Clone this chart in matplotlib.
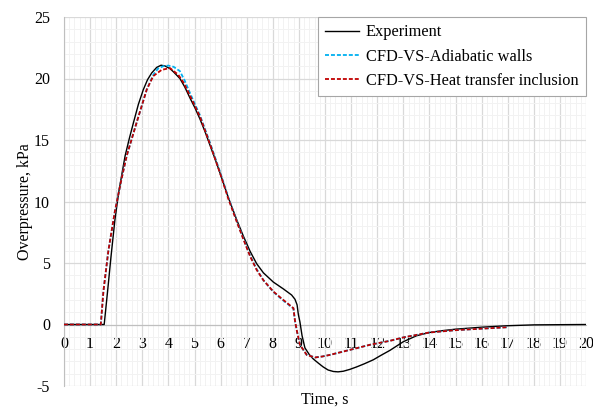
import matplotlib
matplotlib.use("Agg")
import matplotlib.pyplot as plt
from matplotlib.ticker import MultipleLocator

plt.rcParams['font.family'] = ['Liberation Serif', 'DejaVu Serif']
plt.rcParams['axes.unicode_minus'] = False

# Measured overpressure histories (time in s, overpressure in kPa)
exp_t = [0, 1.54, 1.67, 1.8, 1.95, 2.1, 2.34, 2.5, 2.66, 2.85, 3.04, 3.2, 3.36,
         3.55, 3.72, 3.87, 4.06, 4.19, 4.44, 4.63, 4.83, 5.02, 5.21, 5.4, 5.59,
         5.79, 5.98, 6.3, 6.62, 6.87, 7.13, 7.38, 7.64, 8.02, 8.4, 8.72, 8.85,
         8.93, 8.98, 9.04, 9.12, 9.23, 9.4, 9.55, 9.75, 9.93, 10.12, 10.32, 10.5,
         10.7, 10.95, 11.21, 11.5, 11.85, 12.15, 12.49, 13.0, 13.5, 14.0, 14.5,
         15.0, 16.0, 17.0, 18.0, 20.0]
exp_p = [0, 0, 2.7, 5.5, 8.5, 10.8, 13.7, 15.1, 16.4, 17.9, 19.1, 19.9, 20.45,
         20.9, 21.08, 21.02, 20.8, 20.55, 20.0, 19.3, 18.4, 17.6, 16.7, 15.7,
         14.6, 13.45, 12.3, 10.3, 8.5, 7.2, 5.95, 4.95, 4.2, 3.45, 2.9, 2.4, 2.05,
         1.6, 0.8, 0.2, -0.9, -1.9, -2.45, -2.8, -3.15, -3.45, -3.7, -3.82, -3.85,
         -3.8, -3.65, -3.45, -3.2, -2.87, -2.5, -2.1, -1.4, -0.92, -0.65, -0.5,
         -0.38, -0.22, -0.1, -0.03, 0]

adia_t = [0, 1.41, 1.51, 1.7, 1.95, 2.2, 2.4, 2.78, 3.17, 3.42, 3.6, 3.8, 4.0,
          4.2, 4.44, 4.63, 4.83, 5.21, 5.59, 5.98, 6.3, 6.62, 6.87, 7.13, 7.38,
          7.64, 8.02, 8.4, 8.79, 8.85, 8.93, 9.04, 9.3, 9.62, 9.9, 10.19, 10.96,
          11.72, 12.5, 13.0, 14.0, 15.0, 15.9, 17.0]
adia_p = [0, 0, 2.7, 6.0, 9.2, 11.8, 13.7, 16.4, 19.1, 20.3, 20.8, 21.0, 21.05,
          20.95, 20.6, 19.8, 18.8, 17.0, 14.8, 12.4, 10.3, 8.4, 7.0, 5.6, 4.5,
          3.6, 2.65, 1.95, 1.3, 0.3, -0.6, -1.65, -2.47, -2.68, -2.6, -2.47,
          -2.06, -1.65, -1.32, -1.05, -0.65, -0.46, -0.35, -0.22]

heat_t = [0, 1.41, 1.51, 1.7, 1.95, 2.2, 2.4, 2.78, 3.17, 3.42, 3.74, 4.06, 4.38,
          4.6, 4.83, 5.21, 5.59, 5.98, 6.3, 6.62, 6.87, 7.13, 7.38, 7.64, 8.02,
          8.4, 8.79, 8.85, 8.93, 9.04, 9.3, 9.62, 9.9, 10.19, 10.96, 11.72, 12.5,
          13.0, 14.0, 15.0, 15.9, 17.0]
heat_p = [0, 0, 2.7, 6.0, 9.2, 11.8, 13.7, 16.4, 19.1, 20.2, 20.7, 20.85, 20.3,
          19.6, 18.6, 16.9, 14.7, 12.3, 10.2, 8.35, 6.95, 5.55, 4.45, 3.6, 2.68,
          2.0, 1.33, 0.3, -0.6, -1.65, -2.47, -2.68, -2.6, -2.47, -2.06, -1.65,
          -1.32, -1.05, -0.65, -0.46, -0.35, -0.22]

series_labels = ['Experiment', 'CFD-VS-Adiabatic walls', 'CFD-VS-Heat transfer inclusion']
x_ticks = list(range(0, 21))
y_ticks = [-5, 0, 5, 10, 15, 20, 25]

fig = plt.figure(figsize=(5.93, 4.08), dpi=100)
ax = fig.add_axes([64 / 593, 1 - 386 / 408, (586 - 64) / 593, (386 - 17) / 408])

ax.plot(exp_t, exp_p, color='black', lw=1.0, label=series_labels[0], zorder=3)
ax.plot(adia_t, adia_p, color='#00B0F0', lw=1.3, dashes=(2.2, 1.1),
        label=series_labels[1], zorder=4)
ax.plot(heat_t, heat_p, color='#C00000', lw=1.3, dashes=(2.2, 1.1),
        label=series_labels[2], zorder=5)

ax.set_xlim(0, 20)
ax.set_ylim(-5, 25)
ax.set_xticks(x_ticks)
ax.set_yticks(y_ticks)
ax.xaxis.set_minor_locator(MultipleLocator(0.2))
ax.yaxis.set_minor_locator(MultipleLocator(1))
ax.grid(which='major', color='#D9D9D9', lw=0.9, zorder=0)
ax.grid(which='minor', color='#F2F2F2', lw=0.7, zorder=0)
ax.set_axisbelow(True)

for s in ('top', 'right'):
    ax.spines[s].set_visible(False)
ax.spines['bottom'].set_position(('data', 0))
ax.spines['bottom'].set_color('#BFBFBF')
ax.spines['left'].set_color('#BFBFBF')
ax.spines['bottom'].set_zorder(1)

ax.tick_params(which='both', length=0)
ax.tick_params(axis='x', labelsize=11.5, pad=8)
ax.tick_params(axis='y', labelsize=11.5, pad=10)

ax.set_xlabel('Time, s', fontsize=11.5)
ax.xaxis.set_label_coords(0.5, -0.015)
ax.set_ylabel('Overpressure, kPa', fontsize=11.5)
ax.yaxis.set_label_coords(-0.059, 0.5)

leg = ax.legend(loc='upper right', bbox_to_anchor=(1.0, 1.0), borderaxespad=0,
                fontsize=11.8, frameon=True, fancybox=False, framealpha=1,
                edgecolor='#A6A6A6', handlelength=2.1, handletextpad=0.4,
                labelspacing=0.5, borderpad=0.45)
leg.get_frame().set_linewidth(0.8)
leg.set_zorder(10)

fig.savefig('out.png', dpi=100)
